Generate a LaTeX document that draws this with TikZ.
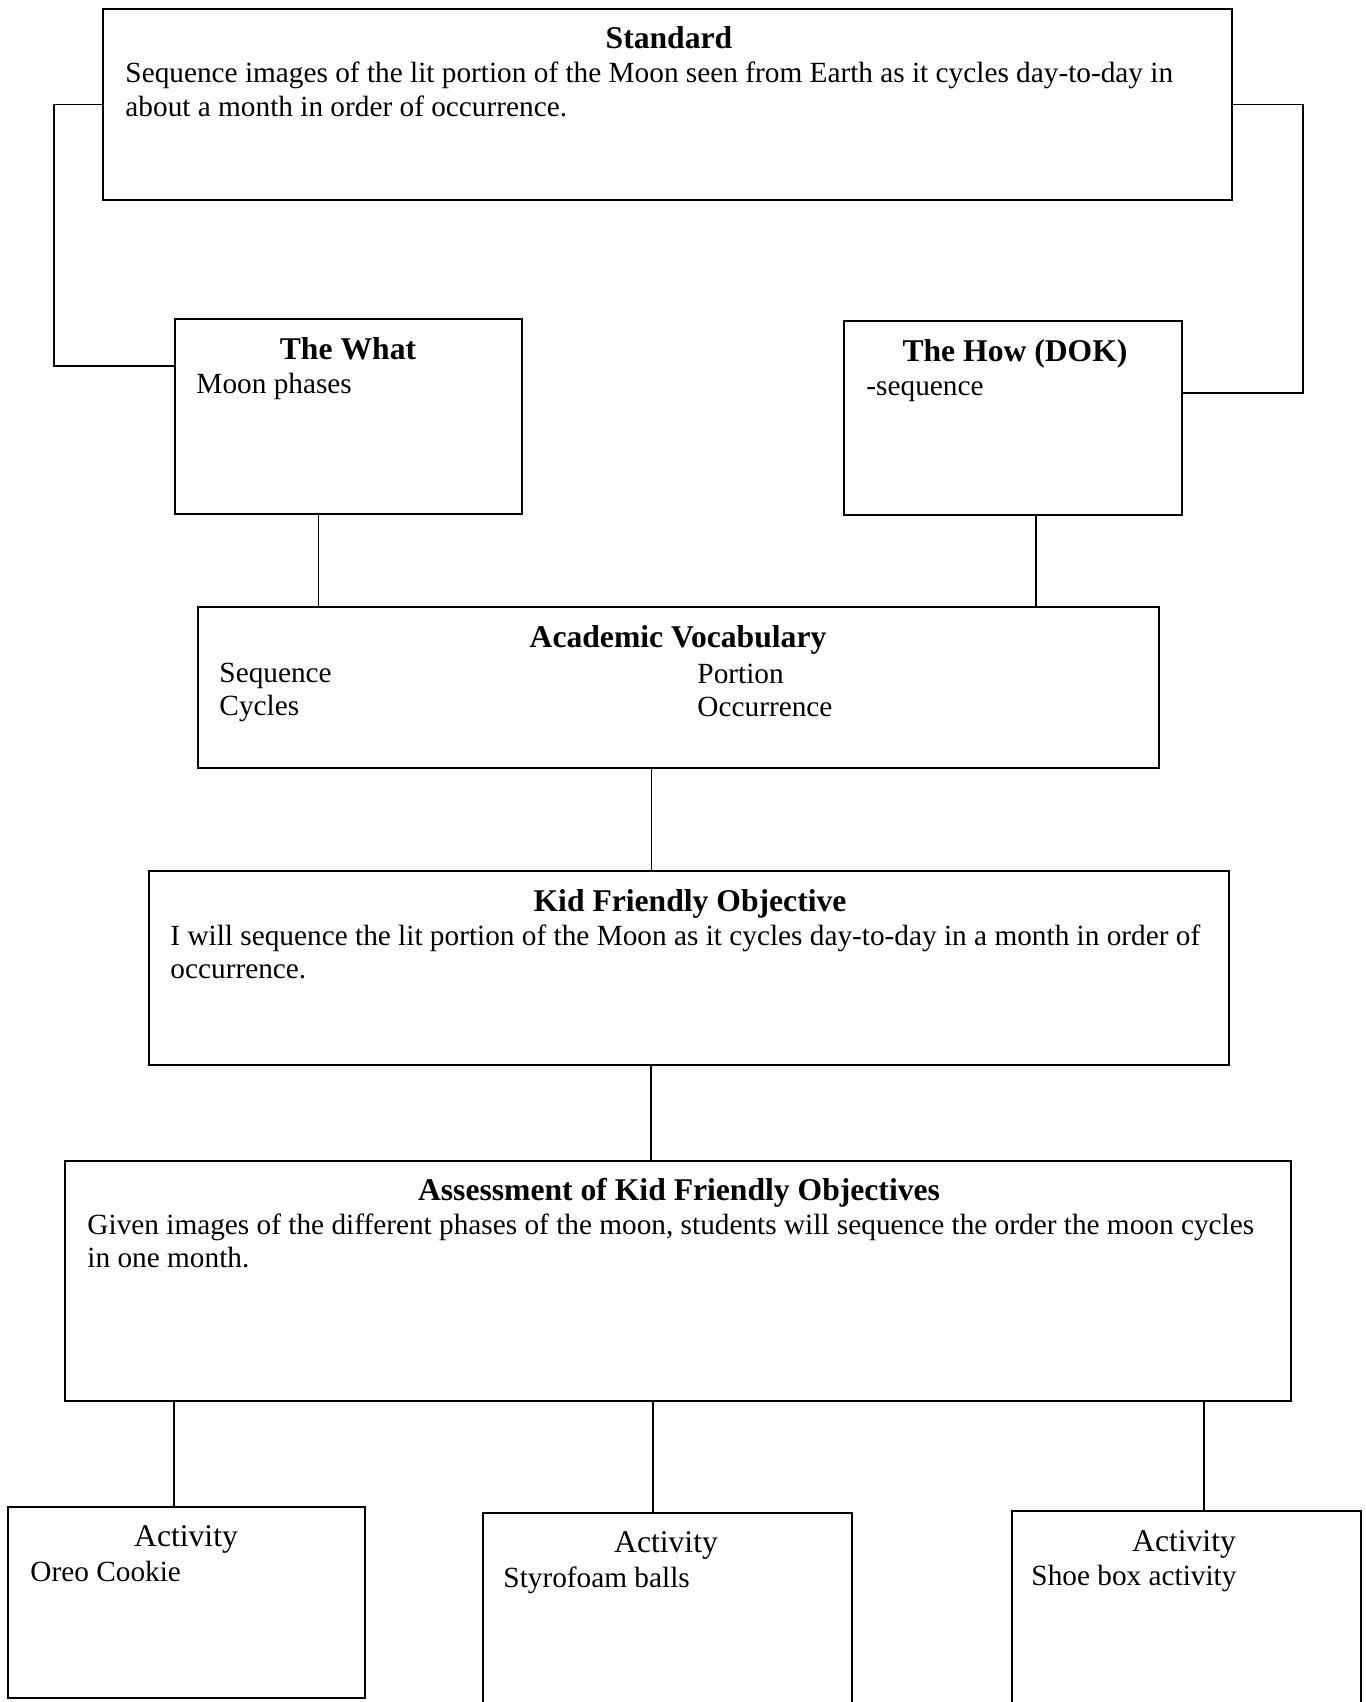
\documentclass[tikz,border=0pt]{standalone}
\usepackage{fontspec}
\setmainfont{Liberation Serif}
\usetikzlibrary{positioning,calc,fit}

\begin{document}
\begin{tikzpicture}[x=0.015cm, y=-0.015cm,
	panel/.style={draw, line width=1pt, inner sep=0pt},
	link/.style={line width=0.6pt},
	heading/.style={anchor=base, inner sep=0pt, font=\fontsize{13.5}{14.5}\selectfont\bfseries},
	acthead/.style={anchor=base, inner sep=0pt, font=\fontsize{13.5}{14.5}\selectfont},
	bodytext/.style={anchor=base west, inner sep=0pt, text width=19cm, align=flush left, font=\fontsize{12.5}{14.5}\selectfont}]
				\useasboundingbox (0,0) rectangle (1365,1702);
				% boxes
				\node[panel, fit={(103,9) (1232,200)}] (std) {};
				\node[panel, fit={(175,319) (522,514)}] (what) {};
				\node[panel, fit={(844,321) (1182,515)}] (how) {};
				\node[panel, fit={(198,607) (1159,768)}] (voc) {};
				\node[panel, fit={(149,871) (1229,1065)}] (kid) {};
				\node[panel, fit={(65,1161) (1291,1401)}] (ass) {};
				\node[panel, fit={(8,1507) (365,1698)}] (act1) {};
				\node[panel, fit={(483,1513) (852,1730)}] (act2) {};
				\node[panel, fit={(1012,1511) (1361,1730)}] (act3) {};
				% texts
				\node[heading] (stdhead) at (669,49) {Standard};
				\node[bodytext] (stdtext) at (125,83) {Sequence images of the lit portion of the Moon seen from Earth as it cycles day-to-day in\\about a month in order of occurrence.};
				\node[heading] (whathead) at (348,360) {The What};
				\node[bodytext] (whattext) at (196,394) {Moon phases};
				\node[heading] (howhead) at (1015,362) {The How (DOK)};
				\node[bodytext] (howtext) at (866,396) {-sequence};
				\node[heading] (vochead) at (678,647) {Academic Vocabulary};
				\node[bodytext] (vocleft) at (219,682) {Sequence\\Cycles};
				\node[bodytext] (vocright) at (697,683) {Portion\\Occurrence};
				\node[heading] (kidhead) at (690,911) {Kid Friendly Objective};
				\node[bodytext] (kidtext) at (170,945) {I will sequence the lit portion of the Moon as it cycles day-to-day in a month in order of\\occurrence.};
				\node[heading] (asshead) at (679,1200) {Assessment of Kid Friendly Objectives};
				\node[bodytext] (asstext) at (87,1234) {Given images of the different phases of the moon, students will sequence the order the moon cycles\\in one month.};
				\node[acthead] (acthead1) at (186,1546) {Activity};
				\node[bodytext] (acttext1) at (30,1581) {Oreo Cookie};
				\node[acthead] (acthead2) at (666,1552) {Activity};
				\node[bodytext] (acttext2) at (503,1587) {Styrofoam balls};
				\node[acthead] (acthead3) at (1184,1551) {Activity};
				\node[bodytext] (acttext3) at (1031,1585) {Shoe box activity};
				% connectors
				\draw[link] (std.west) -- ++(-48,0) |- ($(what.north west)+(0,48)$);
				\draw[link] (std.east) -- ++(70,0) |- ($(how.north east)+(0,73)$);
				\draw[link] ($(what.south)+(-30,0)$) coordinate (w1) -- (w1 |- voc.north);
				\draw[link] ($(how.south)+(23,0)$) coordinate (h1) -- (h1 |- voc.north);
				\draw[link] ($(voc.south)+(-27,0)$) coordinate (v1) -- (v1 |- kid.north);
				\draw[link] ($(kid.south)+(-38,0)$) coordinate (k1) -- (k1 |- ass.north);
				\draw[link] ($(ass.south)+(-504,0)$) coordinate (a1) -- (a1 |- act1.north);
				\draw[link] ($(ass.south)+(-25,0)$) coordinate (a2) -- (a2 |- act2.north);
				\draw[link] ($(ass.south)+(526,0)$) coordinate (a3) -- (a3 |- act3.north);
\end{tikzpicture}
\end{document}
